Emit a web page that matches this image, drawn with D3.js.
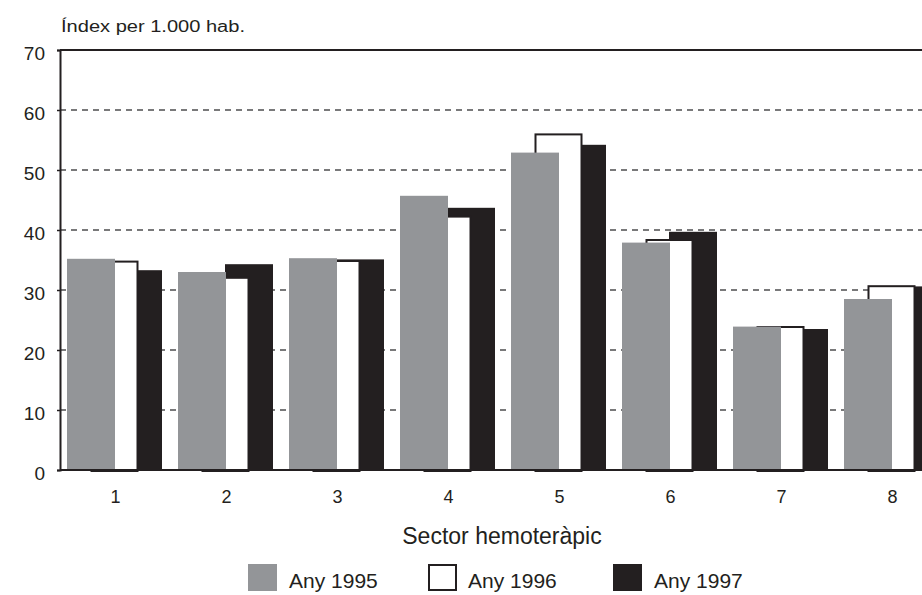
<!DOCTYPE html>
<html>
<head>
<meta charset="utf-8">
<script src="https://cdn.jsdelivr.net/npm/d3@7"></script>
<style>
  body { margin: 0; background: #fff; }
  svg { display: block; font-family: "Liberation Sans", Arial, sans-serif; }
</style>
</head>
<body>
<svg id="chart" width="922" height="595"></svg>
<script>
'use strict'
// chart data
var sectors = ['1', '2', '3', '4', '5', '6', '7', '8'];
var seriesNames = ['Any 1995', 'Any 1996', 'Any 1997'];
var any1995 = [35.2, 33.0, 35.3, 45.7, 52.9, 37.9, 23.9, 28.5];
var any1996 = [34.9, 32.2, 35.0, 42.4, 56.1, 38.5, 24.0, 30.8];
var any1997 = [33.3, 34.3, 35.1, 43.7, 54.2, 39.7, 23.5, 30.6];
var yTicks = [0, 10, 20, 30, 40, 50, 60, 70];

var ink = '#231f20';
var grey = '#939598';
var font = '"Liberation Sans", Arial, sans-serif';

var svg = d3.select('#chart');
var marginLeft = 60, marginTop = 50, plotH = 420, plotW = 888;

var x = d3.scaleBand().domain(sectors).range([marginLeft, marginLeft + plotW]);
var y = d3.scaleLinear().domain([0, 70]).range([marginTop + plotH, marginTop]);
// offset of each series inside a sector band
var inner = d3.scalePoint().domain(seriesNames).range([7, 54]);
var barW = 48;

// dashed gridlines
svg.append('g').selectAll('line')
  .data(yTicks.filter(function(t){ return t > 0 && t < 70; }))
  .enter().append('line')
  .attr('x1', marginLeft).attr('x2', 922)
  .attr('y1', function(d){ return y(d); })
  .attr('y2', function(d){ return y(d); })
  .attr('stroke', '#4d4d4f')
  .attr('stroke-width', 1.5)
  .attr('stroke-dasharray', '6,5');

// bars: 1997 at the back, 1996 in the middle, 1995 in front
var bars = svg.append('g');
bars.selectAll('rect.b97').data(any1997).enter().append('rect')
  .attr('x', function(d, i){ return x(sectors[i]) + inner('Any 1997'); })
  .attr('y', function(d){ return y(d); })
  .attr('width', barW)
  .attr('height', function(d){ return y(0) - y(d); })
  .attr('fill', ink);

bars.selectAll('rect.b96').data(any1996).enter().append('rect')
  .attr('x', function(d, i){ return x(sectors[i]) + inner('Any 1996') + 1; })
  .attr('y', function(d){ return y(d) + 1; })
  .attr('width', barW - 2)
  .attr('height', function(d){ return y(0) - y(d); })
  .attr('fill', '#fff')
  .attr('stroke', ink)
  .attr('stroke-width', 2);

bars.selectAll('rect.b95').data(any1995).enter().append('rect')
  .attr('x', function(d, i){ return x(sectors[i]) + inner('Any 1995'); })
  .attr('y', function(d){ return y(d); })
  .attr('width', barW)
  .attr('height', function(d){ return y(0) - y(d); })
  .attr('fill', grey);

// frame: top border and baseline
svg.append('line').attr('x1', marginLeft).attr('x2', 922).attr('y1', marginTop).attr('y2', marginTop)
  .attr('stroke', ink).attr('stroke-width', 2);
svg.append('line').attr('x1', marginLeft).attr('x2', 922).attr('y1', y(0)).attr('y2', y(0))
  .attr('stroke', ink).attr('stroke-width', 2);

// y axis
var yAxis = svg.append('g')
  .attr('transform', 'translate(' + marginLeft + ',0)')
  .call(d3.axisLeft(y).tickValues(yTicks).tickSize(3).tickPadding(12));
yAxis.select('.domain').attr('stroke', ink).attr('stroke-width', 2);
yAxis.selectAll('.tick line').attr('stroke', ink).attr('stroke-width', 1.5);
yAxis.selectAll('.tick text')
  .attr('fill', ink).attr('dy', '0.5em')
  .style('font-size', '19px').style('font-family', font);

// x axis labels
var xAxis = svg.append('g')
  .attr('transform', 'translate(0,' + y(0) + ')')
  .call(d3.axisBottom(x).tickSize(0).tickPadding(20));
xAxis.select('.domain').remove();
xAxis.selectAll('.tick text')
  .attr('fill', ink).style('font-size', '18px').style('font-family', font);

// titles
svg.append('text')
  .attr('x', 61).attr('y', 32)
  .attr('fill', ink).style('font-size', '16px')
  .attr('textLength', 184).attr('lengthAdjust', 'spacingAndGlyphs')
  .text('Índex per 1.000 hab.');

svg.append('text')
  .attr('x', 502).attr('y', 544)
  .attr('text-anchor', 'middle')
  .attr('fill', ink).style('font-size', '23px')
  .text('Sector hemoteràpic');

// legend
var legendX = [248, 428, 613];
var legendFill = [grey, '#fff', ink];
var legend = svg.append('g').selectAll('g')
  .data(seriesNames).enter().append('g')
  .attr('transform', function(d, i){ return 'translate(' + legendX[i] + ',564)'; });
legend.append('rect')
  .attr('x', function(d, i){ return i === 1 ? 1 : 0; })
  .attr('y', function(d, i){ return i === 1 ? 1 : 0; })
  .attr('width', function(d, i){ return i === 1 ? 27 : 29; })
  .attr('height', function(d, i){ return i === 1 ? 25 : 27; })
  .attr('fill', function(d, i){ return legendFill[i]; })
  .attr('stroke', function(d, i){ return i === 1 ? ink : 'none'; })
  .attr('stroke-width', 2);
legend.append('text')
  .attr('x', function(d, i){ return i === 1 ? 40 : 41; })
  .attr('y', 24)
  .attr('fill', ink).style('font-size', '21px')
  .text(function(d){ return d; });
</script>
</body>
</html>
